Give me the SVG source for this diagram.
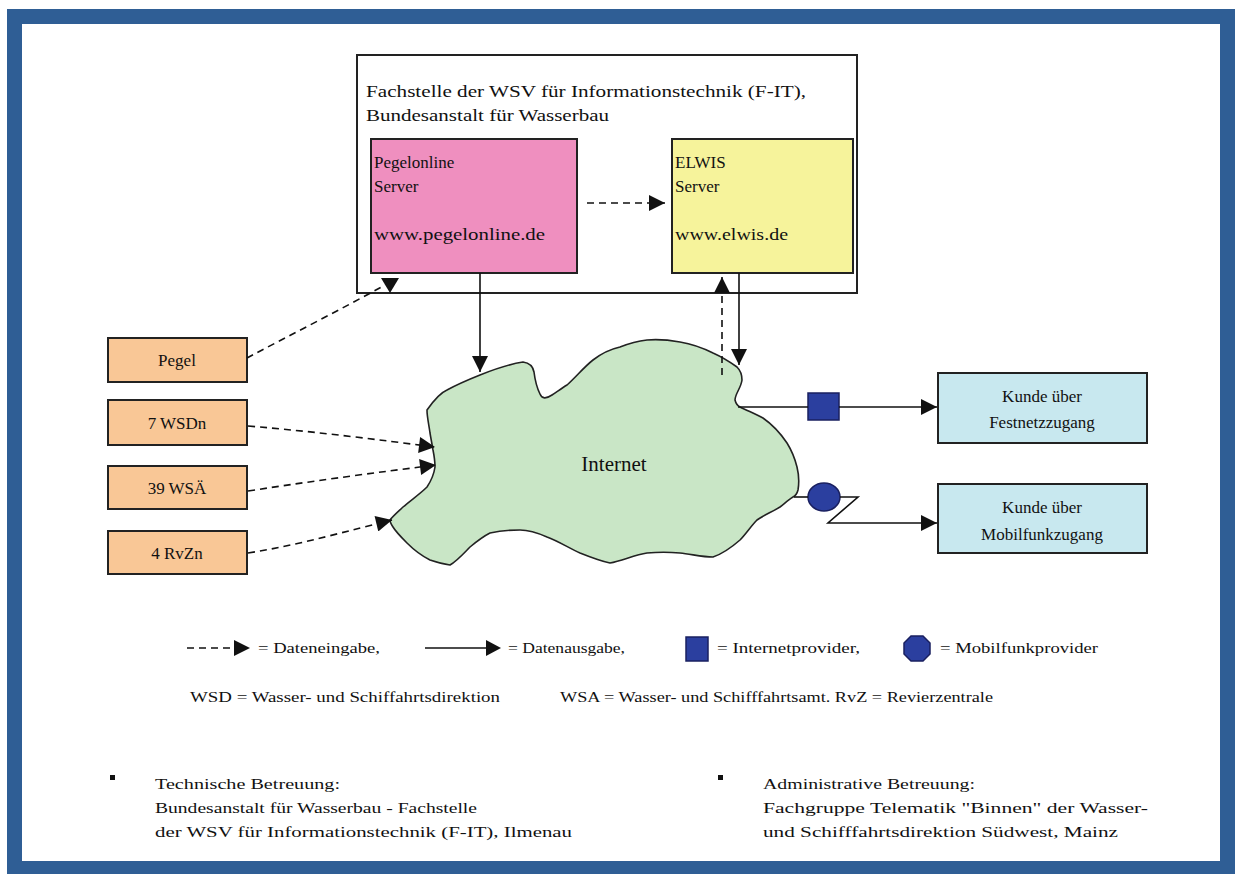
<svg xmlns="http://www.w3.org/2000/svg" width="1238" height="874" viewBox="0 0 1238 874">
<style>
  text { font-family: "Liberation Serif", "Times New Roman", serif; fill: #111; }
  .t16 { font-size: 17px; }
  .lbl { font-size: 17px; text-anchor: middle; }
  .leg { font-size: 15px; }
  .box { stroke: #222; stroke-width: 2; }
  .solid { stroke: #111; stroke-width: 1.6; fill: none; }
  .dash { stroke: #111; stroke-width: 1.6; fill: none; stroke-dasharray: 7 5; }
</style>
<defs>
  <marker id="ah" viewBox="0 0 10 10" refX="10" refY="5" markerWidth="10" markerHeight="10" markerUnits="userSpaceOnUse" orient="auto">
    <path d="M0,0 L10,5 L0,10 Z" fill="#111"/>
  </marker>
  <marker id="ahb" viewBox="0 0 10 10" refX="10" refY="5" markerWidth="18" markerHeight="16" markerUnits="userSpaceOnUse" orient="auto">
    <path d="M0,0 L10,5 L0,10 Z" fill="#111"/>
  </marker>
</defs>

<!-- frame -->
<rect x="0" y="0" width="1238" height="874" fill="#ffffff"/>
<rect x="14.5" y="16.5" width="1213" height="852" fill="#ffffff" stroke="#2f5e95" stroke-width="15"/>

<!-- F-IT container -->
<g id="fit">
  <rect x="357" y="55" width="500" height="238" fill="#ffffff" class="box"/>
  <text x="366" y="97" class="t16" textLength="440" lengthAdjust="spacingAndGlyphs">Fachstelle der WSV für Informationstechnik (F-IT),</text>
  <text x="366" y="121" class="t16" textLength="243" lengthAdjust="spacingAndGlyphs">Bundesanstalt für Wasserbau</text>
</g>

<g id="pegelonline">
  <rect x="371" y="139" width="206" height="134" fill="#ef8fbf" class="box"/>
  <text x="374" y="168" class="t16">Pegelonline</text>
  <text x="374" y="192" class="t16">Server</text>
  <text x="374" y="240" class="t16" textLength="171" lengthAdjust="spacingAndGlyphs">www.pegelonline.de</text>
</g>

<g id="elwis">
  <rect x="672" y="139" width="181" height="134" fill="#f6f39b" class="box"/>
  <text x="675" y="168" class="t16">ELWIS</text>
  <text x="675" y="192" class="t16">Server</text>
  <text x="675" y="240" class="t16" textLength="113" lengthAdjust="spacingAndGlyphs">www.elwis.de</text>
</g>

<!-- sources -->
<g id="pegel">
  <rect x="108" y="338" width="139" height="44" fill="#f9c796" class="box"/>
  <text x="177" y="366" class="lbl">Pegel</text>
</g>
<g id="wsd">
  <rect x="108" y="400" width="139" height="45" fill="#f9c796" class="box"/>
  <text x="177" y="429" class="lbl">7 WSDn</text>
</g>
<g id="wsa">
  <rect x="108" y="466" width="139" height="43" fill="#f9c796" class="box"/>
  <text x="177" y="494" class="lbl">39 WSÄ</text>
</g>
<g id="rvz">
  <rect x="108" y="531" width="139" height="43" fill="#f9c796" class="box"/>
  <text x="177" y="559" class="lbl">4 RvZn</text>
</g>

<!-- internet cloud -->
<g id="internet">
  <path d="M427,410 C434,400 440,393 447,390 C458,384 470,379 480,375 C495,369 510,364 523,362 C530,363 533,366 534,372 C535,380 536,386 540,394 C542,399 546,399 552,395 C558,391 562,388 567,385 C576,377 584,367 593,360 C602,353 611,349 620,347 C630,343 638,341 647,340 C658,339 669,340 680,342 C692,344 703,348 713,353 C722,357 730,362 737,367 C741,371 742,376 742,380 C741,388 735,394 735,400 C736,404 738,406 740,407 C748,411 756,414 763,418 C773,425 781,434 787,443 C792,451 795,459 797,467 C799,475 799,484 798,490 C797,494 795,496 793,497 C788,500 784,504 780,507 C772,512 764,515 757,520 C751,526 746,534 740,540 C732,547 722,554 713,557 C702,557 691,554 680,553 C669,552 658,552 647,553 C634,555 622,561 610,563 C600,561 590,557 580,553 C569,548 558,541 547,537 C538,533 529,530 520,530 C510,530 499,531 490,533 C482,537 476,542 470,547 C464,553 457,561 450,565 C443,564 436,562 430,560 C422,556 413,549 407,543 C401,537 396,532 393,527 C391,524 390,522 390,520 C394,515 399,511 403,507 C411,500 420,494 427,487 C431,481 434,474 435,467 C435,461 434,455 433,450 C432,444 431,439 430,433 C429,425 427,417 427,410 Z" fill="#c9e6c6" stroke="#222" stroke-width="1.6"/>
  <text x="614" y="471" font-size="21" text-anchor="middle">Internet</text>
</g>

<!-- customers -->
<g id="kunde-fest">
  <rect x="938" y="373" width="209" height="70" fill="#c8e8ef" class="box"/>
  <text x="1042" y="402" class="lbl">Kunde über</text>
  <text x="1042" y="428" class="lbl">Festnetzzugang</text>
</g>
<g id="kunde-mobil">
  <rect x="938" y="484" width="209" height="69" fill="#c8e8ef" class="box"/>
  <text x="1042" y="513" class="lbl">Kunde über</text>
  <text x="1042" y="540" class="lbl">Mobilfunkzugang</text>
</g>

<!-- providers -->
<g id="internetprovider">
  <rect x="808" y="393" width="31" height="27" fill="#2b3f9f" stroke="#1a2060" stroke-width="1.5"/>
</g>
<g id="mobilfunkprovider">
  <ellipse cx="824" cy="497" rx="16" ry="14" fill="#2b3f9f" stroke="#1a2060" stroke-width="1.5"/>
</g>

<!-- connectors -->
<g id="connectors">
  <!-- pegelonline -> elwis -->
  <line x1="587" y1="203" x2="665" y2="203" class="dash" marker-end="url(#ahb)"/>
  <!-- pegelonline -> internet -->
  <line x1="480" y1="273" x2="480" y2="372" class="solid" marker-end="url(#ahb)"/>
  <!-- internet -> elwis (dashed up) -->
  <line x1="722" y1="375" x2="722" y2="277" class="dash" marker-end="url(#ahb)"/>
  <!-- elwis -> internet -->
  <line x1="739" y1="273" x2="739" y2="365" class="solid" marker-end="url(#ahb)"/>
  <!-- pegel -> pegelonline -->
  <path d="M247,358 C290,335 340,310 385,285" class="dash"/>
  <polygon points="381,278 399,278 390,293" fill="#111"/>
  <!-- sources -> internet -->
  <path d="M248,426 C320,432 380,440 435,447" class="dash" marker-end="url(#ahb)"/>
  <path d="M248,491 C320,480 380,472 436,465" class="dash" marker-end="url(#ahb)"/>
  <path d="M248,553 C300,545 350,530 392,520" class="dash" marker-end="url(#ahb)"/>
  <!-- internet -> festnetz -->
  <line x1="738" y1="407" x2="808" y2="407" class="solid"/>
  <line x1="839" y1="407" x2="937" y2="407" class="solid" marker-end="url(#ahb)"/>
  <!-- internet -> mobil -->
  <line x1="794" y1="497" x2="808" y2="497" class="solid"/>
  <polyline points="840,497 858,497 828,523 937,523" class="solid" marker-end="url(#ahb)"/>
</g>

<!-- legend -->
<g id="legend">
  <line x1="187" y1="648" x2="234" y2="648" class="dash" stroke-dasharray="6 4"/>
  <polygon points="234,640 250,648 234,656" fill="#111"/>
  <text x="258" y="653" class="leg" textLength="122" lengthAdjust="spacingAndGlyphs">= Dateneingabe,</text>
  <line x1="425" y1="648" x2="486" y2="648" class="solid"/>
  <polygon points="486,640 501,648 486,656" fill="#111"/>
  <text x="508" y="653" class="leg" textLength="117" lengthAdjust="spacingAndGlyphs">= Datenausgabe,</text>
  <rect x="686" y="637" width="22" height="24" fill="#2b3f9f" stroke="#1a2060" stroke-width="1.5"/>
  <text x="717" y="653" class="leg" textLength="143" lengthAdjust="spacingAndGlyphs">= Internetprovider,</text>
  <polygon points="911,636 923,636 930,643 930,654 923,661 911,661 904,654 904,643" fill="#2b3f9f" stroke="#1a2060" stroke-width="1.5"/>
  <text x="940" y="653" class="leg" textLength="158" lengthAdjust="spacingAndGlyphs">= Mobilfunkprovider</text>
  <text x="190" y="702" class="leg" textLength="310" lengthAdjust="spacingAndGlyphs">WSD = Wasser- und Schiffahrtsdirektion</text>
  <text x="560" y="702" class="leg" textLength="433" lengthAdjust="spacingAndGlyphs">WSA = Wasser- und Schifffahrtsamt. RvZ = Revierzentrale</text>
</g>

<!-- footer -->
<g id="footer">
  <rect x="110" y="775" width="5" height="5" fill="#111"/>
  <text x="155" y="789" class="leg" textLength="185" lengthAdjust="spacingAndGlyphs">Technische Betreuung:</text>
  <text x="155" y="813" class="leg" textLength="322" lengthAdjust="spacingAndGlyphs">Bundesanstalt für Wasserbau - Fachstelle</text>
  <text x="155" y="837" class="leg" textLength="417" lengthAdjust="spacingAndGlyphs">der WSV für Informationstechnik (F-IT), Ilmenau</text>
  <rect x="718" y="775" width="5" height="5" fill="#111"/>
  <text x="763" y="789" class="leg" textLength="212" lengthAdjust="spacingAndGlyphs">Administrative Betreuung:</text>
  <text x="763" y="813" class="leg" textLength="385" lengthAdjust="spacingAndGlyphs">Fachgruppe Telematik "Binnen" der Wasser-</text>
  <text x="763" y="837" class="leg" textLength="355" lengthAdjust="spacingAndGlyphs">und Schifffahrtsdirektion Südwest, Mainz</text>
</g>
</svg>
